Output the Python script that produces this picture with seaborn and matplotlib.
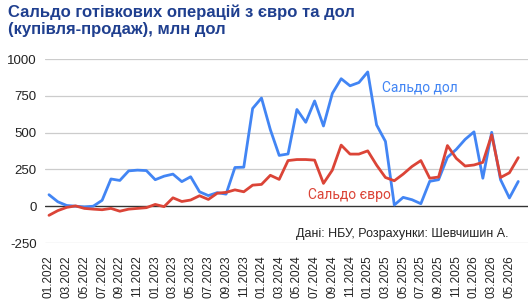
import seaborn as sns
import pandas as pd
import matplotlib.pyplot as plt

# Monthly data, 01.2022 - 06.2026, млн дол
months = [f"{m:02d}.{y}" for y in range(2022, 2027) for m in range(1, 13)][:54]
usd_balance = [78, 30, 5, 0, -5, 0, 40, 185, 175, 240, 245, 242,
               180, 204, 218, 167, 200, 98, 72, 92, 82, 263, 265, 664,
               735, 520, 345, 355, 657, 570, 715, 545, 766, 866, 818, 840,
               912, 552, 440, 8, 60, 44, 17, 169, 180, 332, 386, 454,
               505, 190, 502, 180, 56, 168]
eur_balance = [-62, -30, -8, 2, -15, -20, -24, -15, -34, -20, -15, -10,
               12, -3, 57, 32, 42, 71, 46, 88, 94, 111, 98, 143,
               148, 210, 182, 310, 317, 317, 313, 155, 245, 415, 354, 354,
               376, 279, 195, 173, 218, 270, 310, 190, 198, 412, 325, 273,
               280, 298, 485, 195, 227, 330]
y_ticks = [-250, 0, 250, 500, 750, 1000]

df = pd.DataFrame({
    "idx": list(range(len(months))) * 2,
    "value": usd_balance + eur_balance,
    "series": ["Сальдо дол"] * len(months) + ["Сальдо євро"] * len(months),
})

sns.set_style("white")
plt.rcParams['font.family'] = ['Liberation Sans', 'DejaVu Sans']

fig = plt.figure(figsize=(5.3, 3.07), dpi=100)
ax = fig.add_axes([45 / 530, 64 / 307, 483 / 530, 184 / 307])

for y in y_ticks:
    if y != 0:
        ax.axhline(y, color="#cccccc", lw=0.9, zorder=0)
ax.axhline(0, color="#333333", lw=1.0, zorder=1)

sns.lineplot(data=df, x="idx", y="value", hue="series",
             palette={"Сальдо дол": "#4285f4", "Сальдо євро": "#db4437"},
             linewidth=2, legend=False, ax=ax, zorder=3)

ax.set_xlim(-0.45, 54.1)
ax.set_ylim(-250, 1000)
ax.set_yticks(y_ticks)
ax.set_yticklabels([str(v) for v in y_ticks], fontsize=9.5, color="#222222")
tick_idx = list(range(0, len(months), 2))
ax.set_xticks(tick_idx)
ax.set_xticklabels([months[i] for i in tick_idx], rotation=90, fontsize=8.5,
                   color="#222222")
ax.tick_params(length=0, pad=6)
ax.tick_params(axis="x", pad=9)
ax.set_xlabel("")
ax.set_ylabel("")
sns.despine(ax=ax, left=True, bottom=True)

ax.text(37.6, 777, "Сальдо дол", color="#4285f4", fontsize=10,
        family=["Roboto", "DejaVu Sans"], va="baseline")
ax.text(29.2, 48, "Сальдо євро", color="#db4437", fontsize=10,
        family=["Roboto", "DejaVu Sans"], va="baseline")
ax.text(51.9, -207, "Дані: НБУ, Розрахунки: Шевчишин А.", color="#222222",
        fontsize=9, ha="right", va="baseline")

fig.text(8 / 530, 1 - 5 / 307,
         "Сальдо готівкових операцій з євро та дол\n(купівля-продаж), млн дол",
         fontsize=12, fontweight="bold", color="#1f3f8f", va="top", ha="left",
         linespacing=1.15)

fig.savefig("out.png", dpi=100)
